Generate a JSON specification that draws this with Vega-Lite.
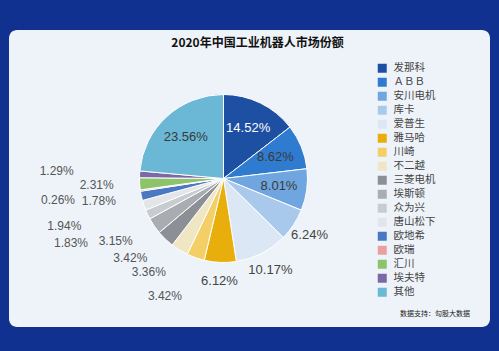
{
  "$schema": "https://vega.github.io/schema/vega-lite/v6.json",
  "width": 481,
  "height": 297,
  "autosize": {"type": "none"},
  "padding": {"left": 9, "top": 30, "right": 9, "bottom": 24},
  "background": "#10318f",
  "view": {"fill": "#eef3f9", "stroke": null, "cornerRadius": 8},
  "title": {
    "text": "2020年中国工业机器人市场份额",
    "anchor": "middle",
    "offset": -20,
    "dx": 8,
    "font": "Noto Sans CJK SC",
    "fontSize": 12,
    "fontWeight": "bold",
    "color": "#111111"
  },
  "data": {
    "values": [
      {"rank": 1, "name": "发那科", "share": 0.1452},
      {"rank": 2, "name": "ＡＢＢ", "share": 0.0862},
      {"rank": 3, "name": "安川电机", "share": 0.0801},
      {"rank": 4, "name": "库卡", "share": 0.0624},
      {"rank": 5, "name": "爱普生", "share": 0.1017},
      {"rank": 6, "name": "雅马哈", "share": 0.0612},
      {"rank": 7, "name": "川崎", "share": 0.0342},
      {"rank": 8, "name": "不二越", "share": 0.0336},
      {"rank": 9, "name": "三菱电机", "share": 0.0342},
      {"rank": 10, "name": "埃斯顿", "share": 0.0315},
      {"rank": 11, "name": "众为兴", "share": 0.0183},
      {"rank": 12, "name": "唐山松下", "share": 0.0194},
      {"rank": 13, "name": "欧地希", "share": 0.0178},
      {"rank": 14, "name": "欧瑞", "share": 0.0026},
      {"rank": 15, "name": "汇川", "share": 0.0231},
      {"rank": 16, "name": "埃夫特", "share": 0.0129},
      {"rank": 17, "name": "其他", "share": 0.2356}
    ]
  },
  "encoding": {
    "theta": {"field": "share", "type": "quantitative", "stack": true},
    "order": {"field": "rank", "type": "quantitative"}
  },
  "layer": [
    {
      "mark": {"type": "arc", "outerRadius": 84, "stroke": "#ffffff", "strokeWidth": 1, "xOffset": -26},
      "encoding": {
        "color": {
          "field": "name",
          "type": "nominal",
          "scale": {
            "domain": ["发那科", "ＡＢＢ", "安川电机", "库卡", "爱普生", "雅马哈", "川崎", "不二越", "三菱电机", "埃斯顿", "众为兴", "唐山松下", "欧地希", "欧瑞", "汇川", "埃夫特", "其他"],
            "range": ["#1d4fa3", "#2f7bd0", "#6fa6df", "#a9c9ec", "#dbe7f4", "#e8ae0c", "#f3cf66", "#f1e6c4", "#8c9096", "#a9adb2", "#c8cbcf", "#e3e5e8", "#4a78c2", "#e8a0a0", "#8cc36b", "#7b68a6", "#6ab7d6"]
          },
          "legend": {
            "orient": "none",
            "legendX": 368,
            "legendY": 33,
            "padding": 0,
            "title": "数据支持：勾股大数据",
            "titleOrient": "bottom",
            "titleAnchor": "end",
            "titleAlign": "center",
            "titlePadding": 12,
            "titleFont": "Noto Sans CJK SC",
            "titleFontSize": 7,
            "titleFontWeight": "normal",
            "titleColor": "#222222",
            "symbolType": "square",
            "symbolSize": 81,
            "symbolStrokeWidth": 0,
            "labelFont": "Noto Sans CJK SC",
            "labelFontSize": 10.5,
            "labelColor": "#444444",
            "labelOffset": 6,
            "rowPadding": 3
          }
        }
      }
    },
    {
      "mark": {"type": "text", "radius": 56, "xOffset": -26, "font": "Liberation Sans", "fontSize": 13},
      "encoding": {
        "text": {
          "condition": {"test": "indexof(['发那科','ＡＢＢ','安川电机','其他'], datum.name) >= 0", "field": "share", "type": "quantitative", "format": ".2%"},
          "value": ""
        },
        "color": {"condition": {"test": "datum.name == '发那科'", "value": "#ffffff"}, "value": "#3a3a3a"}
      }
    },
    {
      "mark": {"type": "text", "radius": 103, "xOffset": -26, "font": "Liberation Sans", "fontSize": 13, "color": "#444444"},
      "encoding": {
        "text": {
          "condition": {"test": "indexof(['库卡','爱普生','雅马哈'], datum.name) >= 0", "field": "share", "type": "quantitative", "format": ".2%"},
          "value": ""
        }
      }
    },
    {
      "mark": {"type": "text", "align": "right", "radius": 110, "xOffset": -26, "font": "Liberation Sans", "fontSize": 12, "color": "#555555"},
      "encoding": {
        "text": {
          "condition": {"test": "indexof([8, 9, 10, 13, 15], datum.rank) >= 0", "field": "share", "type": "quantitative", "format": ".2%"},
          "value": ""
        }
      }
    },
    {
      "mark": {"type": "text", "align": "right", "radius": 125, "xOffset": -26, "font": "Liberation Sans", "fontSize": 12, "color": "#555555"},
      "encoding": {
        "text": {
          "condition": {"test": "datum.rank == 7", "field": "share", "type": "quantitative", "format": ".2%"},
          "value": ""
        }
      }
    },
    {
      "mark": {"type": "text", "align": "right", "radius": 150, "xOffset": -26, "font": "Liberation Sans", "fontSize": 12, "color": "#555555"},
      "encoding": {
        "text": {
          "condition": {"test": "indexof([11, 12, 14, 16], datum.rank) >= 0", "field": "share", "type": "quantitative", "format": ".2%"},
          "value": ""
        }
      }
    }
  ]
}
